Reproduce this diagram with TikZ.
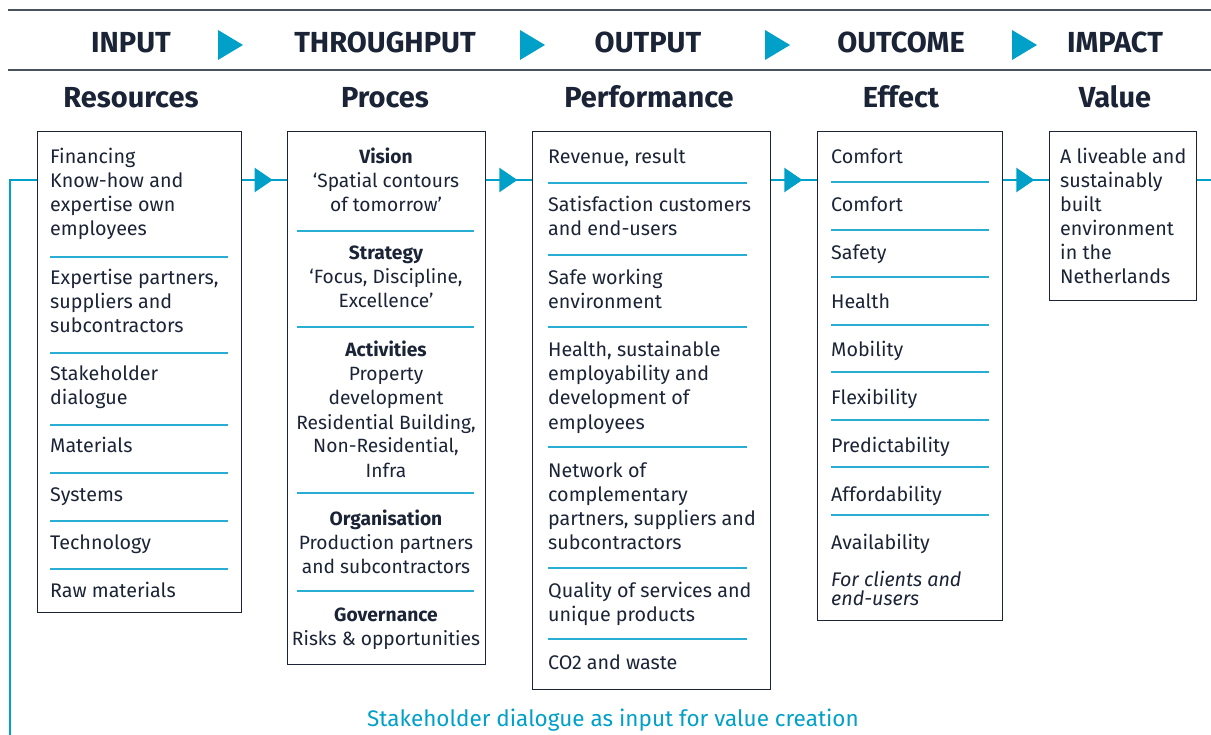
\documentclass[tikz,border=0pt]{standalone}
\usepackage{fontspec}
\setmainfont{Fira Sans}
\usetikzlibrary{arrows.meta,decorations.markings}
\definecolor{navy}{HTML}{1B2436}
\definecolor{tblue}{HTML}{00A0C8}
\definecolor{sepblue}{HTML}{29AED3}
\definecolor{rulegray}{HTML}{4A5260}
\newcommand\boxlines[5]{%
  \foreach \t [count=\i] in {#5} {
    \node[#4] (#1-\i) at ({#2},{#3+24*(\i-1)}) {\t};
  }}
\begin{document}
\begin{tikzpicture}[x=1pt,y=-1pt,
  every node/.style={inner sep=0pt,text=navy},
  head/.style={font=\fontsize{29}{30}\selectfont\bfseries,anchor=base},
  sub/.style={font=\fontsize{29}{30}\selectfont\bfseries,anchor=base},
  lt/.style={font=\fontsize{19.7}{24}\selectfont,anchor=base west},
  ct/.style={font=\fontsize{19.2}{24}\selectfont,anchor=base},
  panel/.style={draw=navy,line width=1.3pt,anchor=north west},
  sepline/.style={draw=sepblue,line width=1.3pt},
  flowline/.style={draw=tblue,line width=2.2pt,
    postaction={decorate,decoration={markings,
      mark=at position #1 with {\arrow{Triangle[width=24pt,length=18pt]}}}}},
  flowline/.default=0.68,
  plainflow/.style={draw=tblue,line width=2.2pt},
  htri/.style={fill=tblue}
]
\useasboundingbox (0,0) rectangle (1211,735);
% header rules
\draw[rulegray,line width=2pt] (8,10) -- (1211,10);
\draw[rulegray,line width=2pt] (8,70) -- (1211,70);
% header labels
\node[head] (hin) at (131,52.5) {INPUT};
\node[head] (hth) at (385,52.5) {THROUGHPUT};
\node[head] (hout) at (648,52.5) {OUTPUT};
\node[head] (hoc) at (901,52.5) {OUTCOME};
\node[head] (him) at (1115,52.5) {IMPACT};
\foreach \cx in {230,532,777,1024}{
  \fill[htri] (\cx-12,30) -- (\cx+13,45) -- (\cx-12,60) -- cycle;
}
% sub headers
\node[sub] (sres) at (131,108) {Resources};
\node[sub] (spro) at (385,108) {Proces};
\node[sub] (sper) at (649,108) {Performance};
\node[sub] (seff) at (901,108) {Effect};
\node[sub] (sval) at (1115,108) {Value};
% panels
\node[panel,minimum width=204pt,minimum height=481pt] (b1) at (37,131) {};
\node[panel,minimum width=198pt,minimum height=533pt] (b2) at (287,131) {};
\node[panel,minimum width=238pt,minimum height=558pt] (b3) at (532,131) {};
\node[panel,minimum width=185pt,minimum height=489pt] (b4) at (817,131) {};
\node[panel,minimum width=147pt,minimum height=169pt] (b5) at (1049,131) {};
% flow
\coordinate (fy) at (0,180);
\coordinate (lstart) at (10,735);
\coordinate (lcorner) at (10,180);
\coordinate (rend) at (1211,180);
\draw[plainflow] (lstart) -- (lcorner) -- (b1.west|-fy);
\draw[flowline] (b1.east|-fy) -- (b2.west|-fy);
\draw[flowline] (b2.east|-fy) -- (b3.west|-fy);
\draw[flowline] (b3.east|-fy) -- (b4.west|-fy);
\draw[flowline] (b4.east|-fy) -- (b5.west|-fy);
\draw[plainflow] (b5.east|-fy) -- (rend);
% box 1
\boxlines{r1}{50}{164}{lt}{Financing,Know-how and,expertise own,employees}
\boxlines{r2}{50}{285}{lt}{{Expertise partners,},suppliers and,subcontractors}
\boxlines{r3}{50}{381}{lt}{Stakeholder,dialogue}
\boxlines{r4}{50}{453}{lt}{Materials}
\boxlines{r5}{50}{501}{lt}{Systems}
\boxlines{r6}{50}{549}{lt}{Technology}
\boxlines{r7}{50}{597}{lt}{Raw materials}
\foreach \yy in {257,353,425,473,521,569}{\draw[sepline] (50,\yy) -- (228,\yy);}
% box 2
\boxlines{p1}{386}{164}{ct}{\textbf{Vision},‘Spatial contours,of tomorrow’}
\boxlines{p2}{386}{260}{ct}{\textbf{Strategy},{‘Focus, Discipline,},Excellence’}
\boxlines{p3}{386}{357}{ct}{\textbf{Activities},Property,development,{Residential Building,},{Non-Residential,},Infra}
\boxlines{p4}{386}{525}{ct}{\textbf{Organisation},Production partners,and subcontractors}
\boxlines{p5}{386}{621}{ct}{\textbf{Governance},Risks \& opportunities}
\foreach \yy in {231,327,493,591}{\draw[sepline] (297,\yy) -- (474,\yy);}
% box 3
\boxlines{o1}{548}{164}{lt}{{Revenue, result}}
\boxlines{o2}{548}{212}{lt}{Satisfaction customers,and end-users}
\boxlines{o3}{548}{285}{lt}{Safe working,environment}
\boxlines{o4}{548}{357}{lt}{{Health, sustainable},employability and,development of,employees}
\boxlines{o5}{548}{477}{lt}{Network of,complementary,{partners, suppliers and},subcontractors}
\boxlines{o6}{548}{597}{lt}{Quality of services and,unique products}
\boxlines{o7}{548}{669}{lt}{CO2 and waste}
\foreach \yy in {183,255,327,447,568,639}{\draw[sepline] (548,\yy) -- (747,\yy);}
% box 4
\node[lt] (e1) at (831,164) {Comfort};
\node[lt] (e2) at (831,212) {Comfort};
\node[lt] (e3) at (831,260) {Safety};
\node[lt] (e4) at (831,309) {Health};
\node[lt] (e5) at (831,357) {Mobility};
\node[lt] (e6) at (831,405) {Flexibility};
\node[lt] (e7) at (831,453) {Predictability};
\node[lt] (e8) at (831,501) {Affordability};
\node[lt] (e9) at (831,549) {Availability};
\node[lt,font=\fontsize{19.7}{24}\selectfont\itshape] (e10) at (831,586) {For clients and};
\node[lt,font=\fontsize{19.7}{24}\selectfont\itshape] (e11) at (831,605) {end-users};
\foreach \yy in {182,230,277,325,372,420,467,515}{\draw[sepline] (831,\yy) -- (989,\yy);}
% box 5
\boxlines{v}{1060}{164}{lt}{A liveable and,sustainably,built,environment,in the,Netherlands}
% bottom caption
\node[anchor=base,text=tblue,font=\fontsize{22.5}{24}\selectfont] (cap) at (613,726) {Stakeholder dialogue as input for value creation};
\end{tikzpicture}
\end{document}
